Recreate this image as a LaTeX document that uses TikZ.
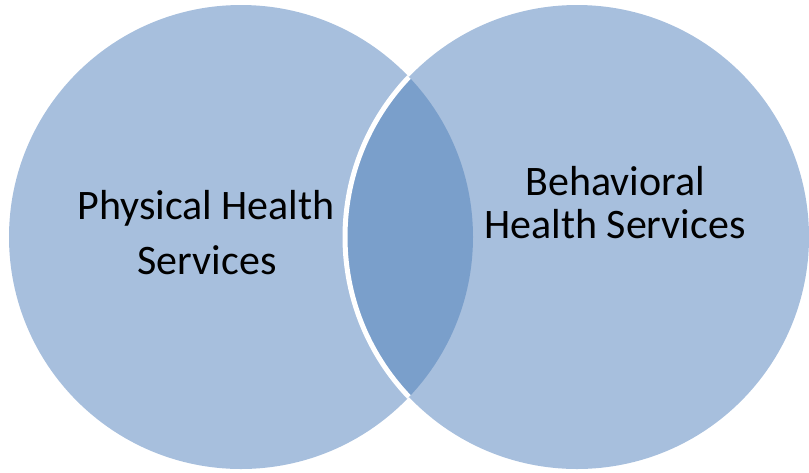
\documentclass[tikz,border=0pt]{standalone}
\usepackage{fontspec}
\setmainfont{Carlito}
\definecolor{setfill}{HTML}{A7BFDD}
\definecolor{overlapfill}{HTML}{7A9FCB}
\begin{document}
\begin{tikzpicture}[x=1pt,y=-1pt,
  setcircle/.style={fill=setfill},
  label/.style={font=\fontsize{42}{42}\selectfont, text=black, anchor=base, inner sep=0pt}]
\useasboundingbox (0,0) rectangle (809,472);
% the two sets
\coordinate (cl) at (241,237);
\coordinate (cr) at (577,237);
\fill[setcircle] (cl) circle[radius=232];
\fill[setcircle] (cr) circle[radius=232];
% overlap region
\begin{scope}
  \clip (cl) circle[radius=232];
  \fill[overlapfill] (cr) circle[radius=232];
\end{scope}
% white rim of the right set over the left one
\begin{scope}
  \clip (cl) circle[radius=232];
  \draw[white, line width=5] (cr) circle[radius=232];
\end{scope}
% labels
\node[label] (pl1) at (206,219) {Physical Health};
\node[label] (pl2) at (207,274) {Services};
\node[label] (bl1) at (615,195) {Behavioral};
\node[label] (bl2) at (615,238) {Health Services};
\end{tikzpicture}
\end{document}
